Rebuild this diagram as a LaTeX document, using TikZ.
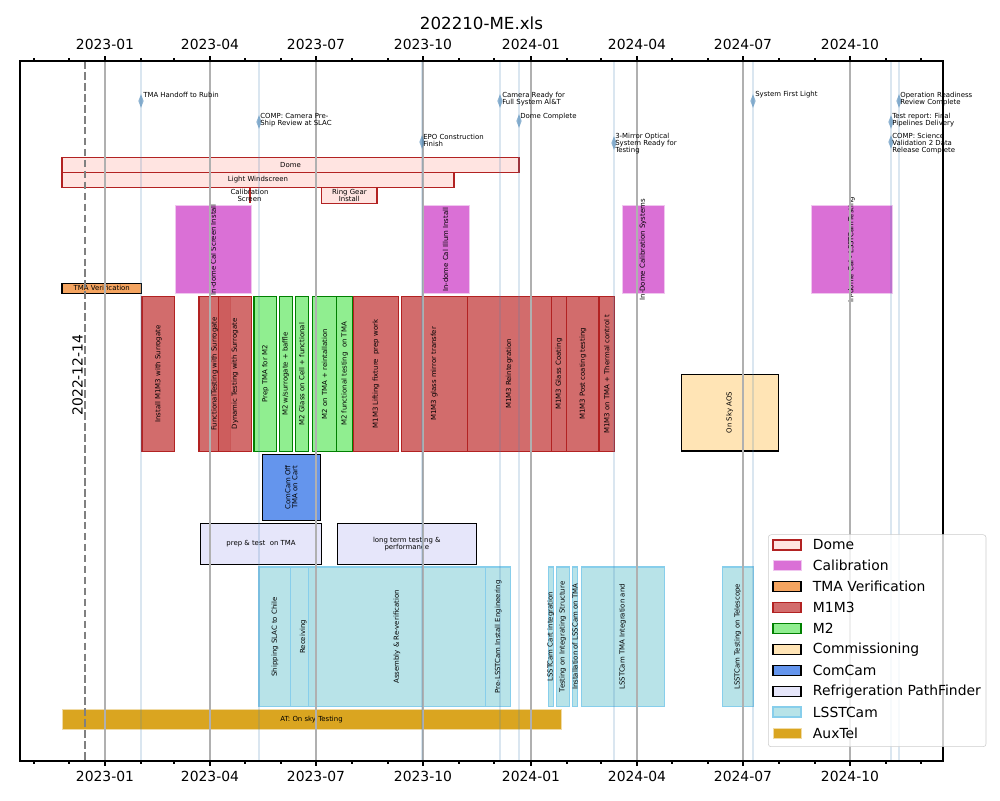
\documentclass[tikz,border=0pt]{standalone}
\usepackage{fontspec}
\setmainfont{DejaVu Sans}
\usetikzlibrary{shapes.geometric}
\definecolor{domefill}{HTML}{FFE4E1}
\definecolor{domeedge}{HTML}{B22222}
\definecolor{calfill}{HTML}{DA70D6}
\definecolor{tmafill}{HTML}{F4A460}
\definecolor{m1m3fill}{HTML}{CD5C5C}
\definecolor{m1m3edge}{HTML}{B22222}
\definecolor{m2fill}{HTML}{90EE90}
\definecolor{m2edge}{HTML}{008000}
\definecolor{commfill}{HTML}{FFE4B5}
\definecolor{comcamfill}{HTML}{6495ED}
\definecolor{reffill}{HTML}{E6E6FA}
\definecolor{lsstfill}{HTML}{B0E0E6}
\definecolor{lsstedge}{HTML}{87CEEB}
\definecolor{auxfill}{HTML}{DAA520}
\definecolor{gridgrey}{HTML}{B0B0B0}
\definecolor{msblue}{HTML}{4682B4}
\definecolor{legendedge}{HTML}{CCCCCC}

\begin{document}
\begin{tikzpicture}[x=0.72pt, y=-0.72pt,
  lbl/.style={font=\fontsize{5}{5}\selectfont, align=center, inner sep=0pt, text opacity=1},
  vlbl/.style={lbl, rotate=90},
  mslabel/.style={lbl, anchor=west, align=left},
  tick/.style={line width=0.8pt},
  ticklabel/.style={font=\fontsize{10}{12}\selectfont},
  gridline/.style={draw=gridgrey, line width=0.8pt},
  msline/.style={draw=msblue, line width=2pt, opacity=0.2},
  mstone/.style={diamond, fill=msblue, fill opacity=0.6, inner sep=0pt, minimum width=4pt, minimum height=10pt},
  domebar/.style={fill=domefill, draw=domeedge, line width=1pt},
  calbar/.style={fill=calfill, draw=calfill!40!white, line width=0.6pt},
  tmabar/.style={fill=tmafill, draw=black, line width=1pt},
  m1m3bar/.style={fill=m1m3fill, fill opacity=0.9, draw=m1m3edge, line width=1pt},
  m2bar/.style={fill=m2fill, draw=m2edge, line width=1pt},
  commbar/.style={fill=commfill, draw=black, line width=1pt},
  comcambar/.style={fill=comcamfill, draw=black, line width=1pt},
  refbar/.style={fill=reffill, draw=black, line width=1pt},
  lsstbar/.style={fill=lsstfill, fill opacity=0.9, draw=lsstedge, line width=1pt},
  auxbar/.style={fill=auxfill, draw=auxfill!40!white, line width=0.6pt},
  legtext/.style={font=\fontsize{10}{12}\selectfont, anchor=west, inner sep=0pt}]
  \useasboundingbox (0,0) rectangle (1000,800);

  % Title
  \node[font=\fontsize{12}{14}\selectfont] (title) at (481.5,23) {202210-ME.xls};

  % Dome
  \draw[domebar] (62,157.3) rectangle (519,172.3) node[midway, lbl] (dome) {Dome};
  \draw[domebar] (62,172.3) rectangle (454,187.3) node[midway, lbl] (wind) {Light Windscreen};
  \draw[domebar] (250,187.7) -- (250,203.3);
  \node[lbl] (calscreen) at (249.5,195) {Calibration\\Screen};
  \draw[domebar] (321.7,187.7) rectangle (377,203.3) node[midway, lbl] (ringgear) {Ring Gear\\Install};

  % Calibration
  \draw[calbar] (175.7,205.7) rectangle (251,293.7) node[midway, vlbl] (cal1) {In-dome Cal Screen Install};
  \draw[calbar] (422,205.7) rectangle (469,293.7) node[midway, vlbl] (cal2) {In-dome Cal Illum Install};
  \draw[calbar] (622,205.7) rectangle (664,293.7) node[midway, vlbl] (cal3) {In-Dome Calibration Systems};
  \draw[calbar] (811,205.7) rectangle (892,293.7) node[midway, vlbl] (cal4) {In-dome Cal - LSSTCamTesting};

  % TMA verification
  \draw[tmabar] (62,283.3) rectangle (141.5,293.3) node[midway, lbl] (tma) {TMA Verification};

  % M1M3
  \draw[m1m3bar] (142,296.3) rectangle (174.7,451.7) node[midway, vlbl] (m1m3a) {Install M1M3 with Surrogate};
  \draw[m1m3bar] (199,296.3) rectangle (230.3,451.7) node[midway, vlbl] (m1m3b) {FunctionalTesting with Surrogate};
  \draw[m1m3bar] (218.3,296.3) rectangle (251.7,451.7) node[midway, vlbl] (m1m3c) {Dynamic Testing with Surrogate};
  \draw[m1m3bar] (353.3,296.3) rectangle (398.7,451.7) node[midway, vlbl] (m1m3d) {M1M3 Lifting fixture\ \ prep work};
  \draw[m1m3bar] (401.3,296.3) rectangle (467.3,451.7) node[midway, vlbl] (m1m3e) {M1M3 glass mirror transfer};
  \draw[m1m3bar] (467.3,296.3) rectangle (551.3,451.7) node[midway, vlbl] (m1m3f) {M1M3 Reintegration};
  \draw[m1m3bar] (551.3,296.3) rectangle (566.7,451.7) node[midway, vlbl] (m1m3g) {M1M3 Glass Coating};
  \draw[m1m3bar] (566.7,296.3) rectangle (599,451.7) node[midway, vlbl] (m1m3h) {M1M3 Post coating testing};
  \draw[m1m3bar] (599,296.3) rectangle (614.7,451.7) node[midway, vlbl] (m1m3i) {M1M3 on TMA + Thermal control t};

  % M2
  \draw[m2bar] (254,296.3) rectangle (276.7,451.7) node[midway, vlbl] (m2a) {Prep TMA for M2};
  \draw[m2bar] (279.3,296.3) rectangle (292.3,451.7) node[midway, vlbl] (m2b) {M2 w/surrogate + baffle};
  \draw[m2bar] (295.3,296.3) rectangle (308.3,451.7) node[midway, vlbl] (m2c) {M2 Glass on Cell + functional};
  \draw[m2bar] (312.3,296.3) rectangle (336.7,451.7) node[midway, vlbl] (m2d) {M2 on TMA + reintallation};
  \draw[m2bar] (336.7,296.3) rectangle (352.7,451.7) node[midway, vlbl] (m2e) {M2 functional testing\ \ on TMA};

  % Commissioning
  \draw[commbar] (681.3,374.3) rectangle (778.3,451) node[midway, vlbl] (aos) {On Sky AOS};

  % ComCam
  \draw[comcambar] (262.3,454.3) rectangle (320.3,520.3) node[midway, vlbl] (comcam) {ComCam Off\\TMA on Cart};

  % Refrigeration PathFinder
  \draw[refbar] (200.7,523.3) rectangle (321.3,564.3) node[midway, lbl] (ref1) {prep \& test\ \ on TMA};
  \draw[refbar] (337.3,523.3) rectangle (476.3,564.3) node[midway, lbl] (ref2) {long term testing \&\\performance};

  % LSSTCam
  \draw[lsstbar] (259,567) rectangle (290.7,706.7) node[midway, vlbl] (cam1) {Shipping SLAC to Chile};
  \draw[lsstbar] (290.7,567) rectangle (315.7,706.7) node[midway, vlbl] (cam2) {Receiving};
  \draw[lsstbar] (308.3,567) rectangle (485.7,706.7) node[midway, vlbl] (cam3) {Assembly \& Re-verification};
  \draw[lsstbar] (485.7,567) rectangle (510.7,706.7) node[midway, vlbl] (cam4) {Pre-LSSTCam Install Engineering};
  \draw[lsstbar] (548.3,567) rectangle (553.3,706.7) node[midway, vlbl] (cam5) {LSSTCam Cart integration};
  \draw[lsstbar] (556.3,567) rectangle (569.3,706.7) node[midway, vlbl] (cam6) {Testing on Integrating Structure};
  \draw[lsstbar] (572.3,567) rectangle (577.7,706.7) node[midway, vlbl] (cam7) {Installation of LSSCam on TMA};
  \draw[lsstbar] (581.3,567) rectangle (664.3,706.7) node[midway, vlbl] (cam8) {LSSTCam TMA Integration and};
  \draw[lsstbar] (722.3,567) rectangle (753.3,706.7) node[midway, vlbl] (cam9) {LSSTCam Testing on Telescope};

  % AuxTel
  \draw[auxbar] (62,709) rectangle (561,729.3) node[midway, lbl] (aux) {AT: On sky Testing};

  % Grid
  \foreach \x in {105,210,316,423,531,637,743,850}
    \draw[gridline] (\x,61) -- (\x,761);

  % Today
  \draw[draw=gray, line width=1.5pt, dash pattern=on 5.5pt off 2.4pt] (85,61) -- (85,761);
  \node[ticklabel, rotate=90] (today) at (77.5,375) {2022-12-14};

  % Milestones
  \foreach \x in {141,259,422,500,519,614,753,891,899}
    \draw[msline] (\x,61) -- (\x,761);
  \node[mstone] (ms1) at (141,101) {};
  \node[mstone] (ms2) at (259,122) {};
  \node[mstone] (ms3) at (422,142) {};
  \node[mstone] (ms4) at (500,101) {};
  \node[mstone] (ms5) at (519,121) {};
  \node[mstone] (ms6) at (614,143) {};
  \node[mstone] (ms7) at (753,101) {};
  \node[mstone] (ms8) at (899,101) {};
  \node[mstone] (ms9) at (891,122) {};
  \node[mstone] (ms10) at (891,142) {};
  \node[mslabel] (msl1) at (143,95) {TMA Handoff to Rubin};
  \node[mslabel] (msl2) at (260,120) {COMP: Camera Pre-\\Ship Review at SLAC};
  \node[mslabel] (msl3) at (423,140) {EPO Construction\\Finish};
  \node[mslabel] (msl4) at (502,99) {Camera Ready for\\Full System AI\&T};
  \node[mslabel] (msl5) at (520,117) {Dome Complete};
  \node[mslabel] (msl6) at (615,143.5) {3-Mirror Optical\\System Ready for\\Testing};
  \node[mslabel] (msl7) at (755,95) {System First Light};
  \node[mslabel] (msl8) at (900,99) {Operation Readiness\\Review Complete};
  \node[mslabel] (msl9) at (892,120) {Test report: Final\\Pipelines Delivery};
  \node[mslabel] (msl10) at (892,143.5) {COMP: Science\\Validation 2 Data\\Release Complete};

  % Axes
  \draw[line width=0.8pt] (20,61) rectangle (943,761);
  \foreach \x in {34,69,141,174,245,281,352,388,459,494,567,601,672,708,779,815,886,921} {
    \draw[tick] (\x,61) -- (\x,58.2);
    \draw[tick] (\x,761) -- (\x,763.8);
  }
  \foreach \x/\d [count=\i] in {105/2023-01,210/2023-04,316/2023-07,423/2023-10,531/2024-01,637/2024-04,743/2024-07,850/2024-10} {
    \draw[tick] (\x,61) -- (\x,56.1);
    \draw[tick] (\x,761) -- (\x,765.9);
    \node[ticklabel] (top\i) at (\x,44) {\d};
    \node[ticklabel] (bot\i) at (\x,776) {\d};
  }

  % Legend
  \draw[draw=legendedge, fill=white, fill opacity=0.8, rounded corners=2pt] (768.3,534.7) rectangle (986,746.7);
  \draw[domebar] (773,540) rectangle (801,550);
  \node[legtext] (l1) at (812.7,545) {Dome};
  \draw[calbar] (773,560.8) rectangle (801,570.8);
  \node[legtext] (l2) at (812.7,565.8) {Calibration};
  \draw[tmabar] (773,581.7) rectangle (801,591.7);
  \node[legtext] (l3) at (812.7,586.7) {TMA Verification};
  \draw[m1m3bar] (773,602.6) rectangle (801,612.6);
  \node[legtext] (l4) at (812.7,607.6) {M1M3};
  \draw[m2bar] (773,623.5) rectangle (801,633.5);
  \node[legtext] (l5) at (812.7,628.5) {M2};
  \draw[commbar] (773,644.4) rectangle (801,654.4);
  \node[legtext] (l6) at (812.7,649.4) {Commissioning};
  \draw[comcambar] (773,665.3) rectangle (801,675.3);
  \node[legtext] (l7) at (812.7,670.3) {ComCam};
  \draw[refbar] (773,686.2) rectangle (801,696.2);
  \node[legtext] (l8) at (812.7,691.2) {Refrigeration PathFinder};
  \draw[lsstbar] (773,707.1) rectangle (801,717.1);
  \node[legtext] (l9) at (812.7,712.1) {LSSTCam};
  \draw[auxbar] (773,728) rectangle (801,738);
  \node[legtext] (l10) at (812.7,733) {AuxTel};
\end{tikzpicture}
\end{document}
